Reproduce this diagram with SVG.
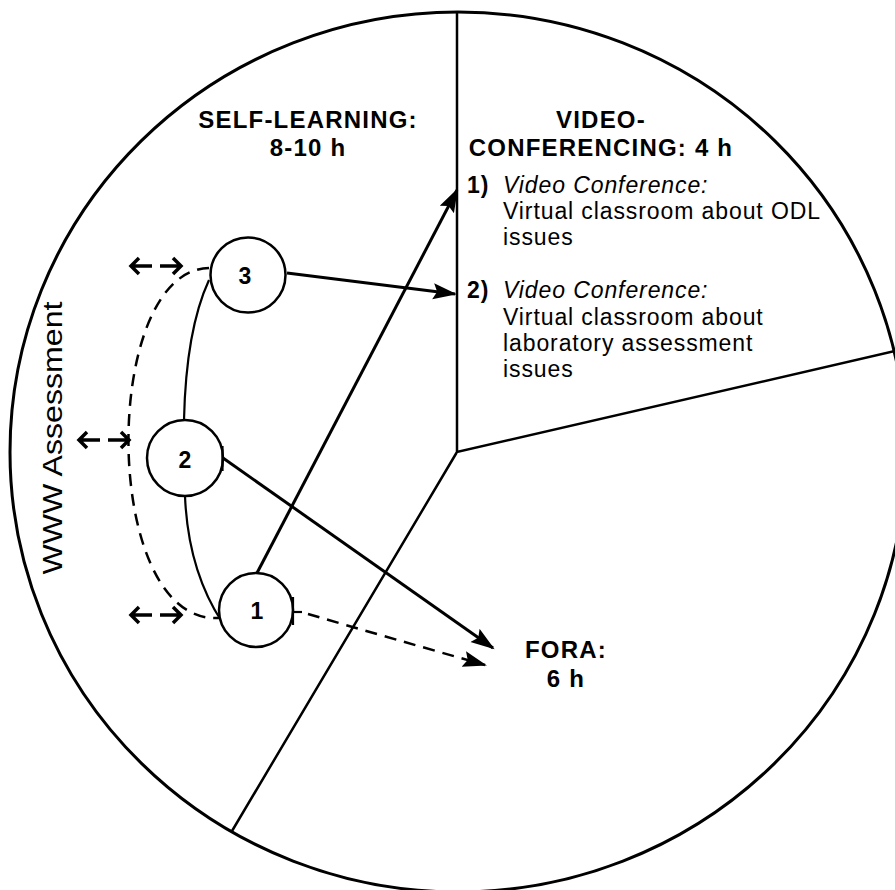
<svg xmlns="http://www.w3.org/2000/svg" width="895" height="890" viewBox="0 0 895 890">
<defs>
<style>
.frame{fill:none;stroke:#000;stroke-width:3}
.div{fill:none;stroke:#000;stroke-width:2.5}
.node{fill:#fff;stroke:#000;stroke-width:2.5}
.lbl{font-family:"Liberation Sans",Arial,sans-serif;font-weight:bold;font-size:23px;text-anchor:middle}
.title{font-family:"Liberation Sans",Arial,sans-serif;font-weight:bold;font-size:24px;letter-spacing:1.2px;text-anchor:middle}
.body{font-family:"Liberation Sans",Arial,sans-serif;font-size:23px;letter-spacing:0.9px}
.it{font-style:italic}
.num{font-weight:bold}
.www{font-family:"Liberation Sans",Arial,sans-serif;font-size:27px;text-anchor:middle}
.edge{fill:none;stroke:#000;stroke-width:3}
.thin{fill:none;stroke:#000;stroke-width:2.2}
.dash{fill:none;stroke:#000;stroke-width:2.5;stroke-dasharray:12 8}
.dbl{fill:none;stroke:#000;stroke-width:3.5}
</style>
<marker id="ah" markerUnits="userSpaceOnUse" markerWidth="26" markerHeight="18" refX="22" refY="8" orient="auto" viewBox="0 0 26 18"><path d="M0,0 L24,8 L0,16 L4,8 Z" fill="#000"/></marker>
</defs>
<rect x="0" y="0" width="895" height="890" fill="#fff"/>
<g id="pie">
<ellipse cx="458" cy="452" rx="448" ry="440" class="frame"/>
<path class="div" d="M457,12 V452 L895,351 M457,452 L232,831"/>
</g>
<g id="connectors">
<path class="edge" d="M257,573 L457,190" marker-end="url(#ah)"/>
<path class="edge" d="M287,273 L455,294" marker-end="url(#ah)"/>
<path class="edge" d="M223,458 L493,648" marker-end="url(#ah)"/>
<path class="thin" d="M294,612 H302"/>
<path class="dash" d="M308,614 Q390,638 485,665" marker-end="url(#ah)"/>
<path class="thin" d="M209,280 Q186,330 184,420"/>
<path class="thin" d="M185,496 Q188,570 222,622"/>
<path class="dash" d="M209,268 C100,270 100,625 219,618"/>
<path class="dbl" d="M131,266 H152 M139,258 L131,266 L139,274 M160,266 H181 M173,258 L181,266 L173,274"/>
<path class="dbl" d="M79,440 H100 M87,432 L79,440 L87,448 M108,440 H129 M121,432 L129,440 L121,448"/>
<path class="dbl" d="M131,615 H152 M139,607 L131,615 L139,623 M160,615 H181 M173,607 L181,615 L173,623"/>
</g>
<g id="node-3"><circle cx="248" cy="275" r="37.5" class="node"/><text x="245" y="284" class="lbl">3</text></g>
<g id="node-2"><circle cx="185" cy="458" r="38" class="node"/><path class="thin" d="M222.5,446 V471"/><text x="185" y="468" class="lbl">2</text></g>
<g id="node-1"><circle cx="256" cy="610" r="37" class="node"/><path class="thin" d="M293,597 V625"/><text x="257" y="619" class="lbl">1</text></g>
<g id="self-learning"><text class="title" x="308" y="128">SELF-LEARNING:</text><text class="title" x="308" y="156">8-10 h</text></g>
<g id="video-conferencing">
<text class="title" x="601" y="128">VIDEO-</text>
<text class="title" x="601" y="156">CONFERENCING: 4 h</text>
<text class="body"><tspan class="num" x="467" y="193">1)</tspan><tspan class="it" x="503" y="193">Video Conference:</tspan></text>
<text class="body" x="503" y="219">Virtual classroom about ODL</text>
<text class="body" x="503" y="245">issues</text>
<text class="body"><tspan class="num" x="467" y="298">2)</tspan><tspan class="it" x="503" y="298">Video Conference:</tspan></text>
<text class="body" x="503" y="325">Virtual classroom about</text>
<text class="body" x="503" y="351">laboratory assessment</text>
<text class="body" x="503" y="377">issues</text>
</g>
<g id="fora"><text class="title" x="566" y="658">FORA:</text><text class="title" x="566" y="687">6 h</text></g>
<g id="www"><text class="www" transform="translate(62,438) rotate(-90)" textLength="273" lengthAdjust="spacingAndGlyphs">WWW Assessment</text></g>
</svg>
